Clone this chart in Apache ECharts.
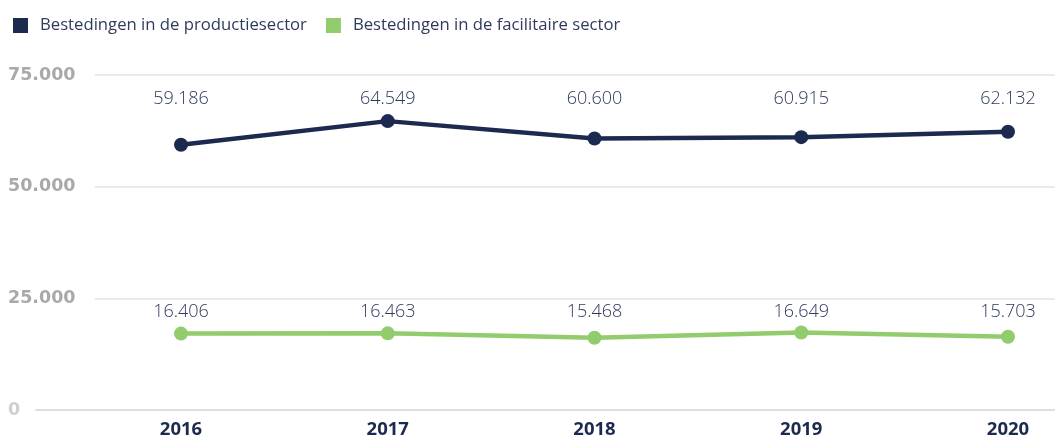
<!DOCTYPE html>
<html><head><meta charset="utf-8">
<script src="https://cdn.jsdelivr.net/npm/echarts@6/dist/echarts.min.js"></script>
<style>html,body{margin:0;padding:0;background:#fff}#c{width:1055px;height:439px}</style>
</head><body><div id="c"></div>
<script>
const categories = ['2016','2017','2018','2019','2020'];
const productie = [59186, 64549, 60600, 60915, 62132];
const facilitair = [16406, 16463, 15468, 16649, 15703];
const seriesNames = ['Bestedingen in de productiesector','Bestedingen in de facilitaire sector'];
const yTicks = [0, 25000, 50000, 75000];

const NAVY = '#1b2a4e', GREEN = '#92cc6c', TXT = '#2e3b5c';
function fmt(v){ return String(v).replace(/\B(?=(\d{3})+(?!\d))/g, '.'); }
const TOP = 75, BOTTOM = 29;
const chart = echarts.init(document.getElementById('c'), null, {renderer:'canvas'});
chart.setOption({
  animation:false,
  textStyle:{fontFamily:'Open Sans'},
  legend:{
    left:8, top:12, itemWidth:15, itemHeight:15, itemGap:19, icon:'rect',
    textStyle:{color:TXT, fontSize:16.7, fontFamily:'Open Sans', padding:[0,0,0,7]},
    data:seriesNames
  },
  grid:[
    {left:95, right:0, top:TOP, bottom:BOTTOM},
    {left:36, right:0, top:TOP, bottom:BOTTOM},
    {left:181, right:47, top:TOP, bottom:BOTTOM}
  ],
  xAxis:[
    {gridIndex:0, type:'value', show:false},
    {gridIndex:1, type:'value', min:0, max:1, axisLine:{show:true, lineStyle:{color:'#dedede', width:2}},
     axisTick:{show:false}, axisLabel:{show:false}, splitLine:{show:false}},
    {gridIndex:2, type:'category', data:categories, boundaryGap:false,
     axisLine:{show:false}, axisTick:{show:false},
     axisLabel:{color:NAVY, fontSize:18.5, fontWeight:'bold', margin:14, fontFamily:'Open Sans'}}
  ],
  yAxis:[
    {gridIndex:0, type:'value', min:0, max:75000, interval:25000,
     axisLine:{show:false}, axisTick:{show:false},
     splitLine:{lineStyle:{color:'#e3e3e3', width:1.5}},
     axisLabel:{align:'left', margin:87,
       formatter:function(v){ return v===0 ? '{z|0}' : '{a|'+fmt(v)+'}'; },
       rich:{a:{color:'#a9a9a9', fontSize:17.5, fontWeight:'bold', fontFamily:'DejaVu Sans'},
             z:{color:'#cfcfcf', fontSize:17.5, fontWeight:'bold', fontFamily:'DejaVu Sans'}}}},
    {gridIndex:1, type:'value', min:0, max:75000, show:false, splitLine:{show:false}},
    {gridIndex:2, type:'value', min:0, max:75000, show:false, splitLine:{show:false}}
  ],
  series:[
    {name:seriesNames[0], type:'line', xAxisIndex:2, yAxisIndex:2, data:productie,
     color:NAVY, lineStyle:{width:4.5, color:NAVY}, symbol:'circle', symbolSize:14, itemStyle:{color:NAVY},
     label:{show:true, position:'top', color:TXT, fontSize:18, fontWeight:300, fontFamily:'Open Sans', align:'center', verticalAlign:'middle', formatter:p=>fmt(p.value)},
     labelLayout:function(p){ return {x:p.rect.x + p.rect.width/2, y:99, align:'center', verticalAlign:'middle'}; }},
    {name:seriesNames[1], type:'line', xAxisIndex:2, yAxisIndex:2, data:facilitair,
     color:GREEN, lineStyle:{width:4.5, color:GREEN}, symbol:'circle', symbolSize:14, itemStyle:{color:GREEN},
     label:{show:true, position:'top', color:TXT, fontSize:18, fontWeight:300, fontFamily:'Open Sans', align:'center', verticalAlign:'middle', formatter:p=>fmt(p.value)},
     labelLayout:function(p){ return {x:p.rect.x + p.rect.width/2, y:312, align:'center', verticalAlign:'middle'}; }}
  ]
});
</script></body></html>
